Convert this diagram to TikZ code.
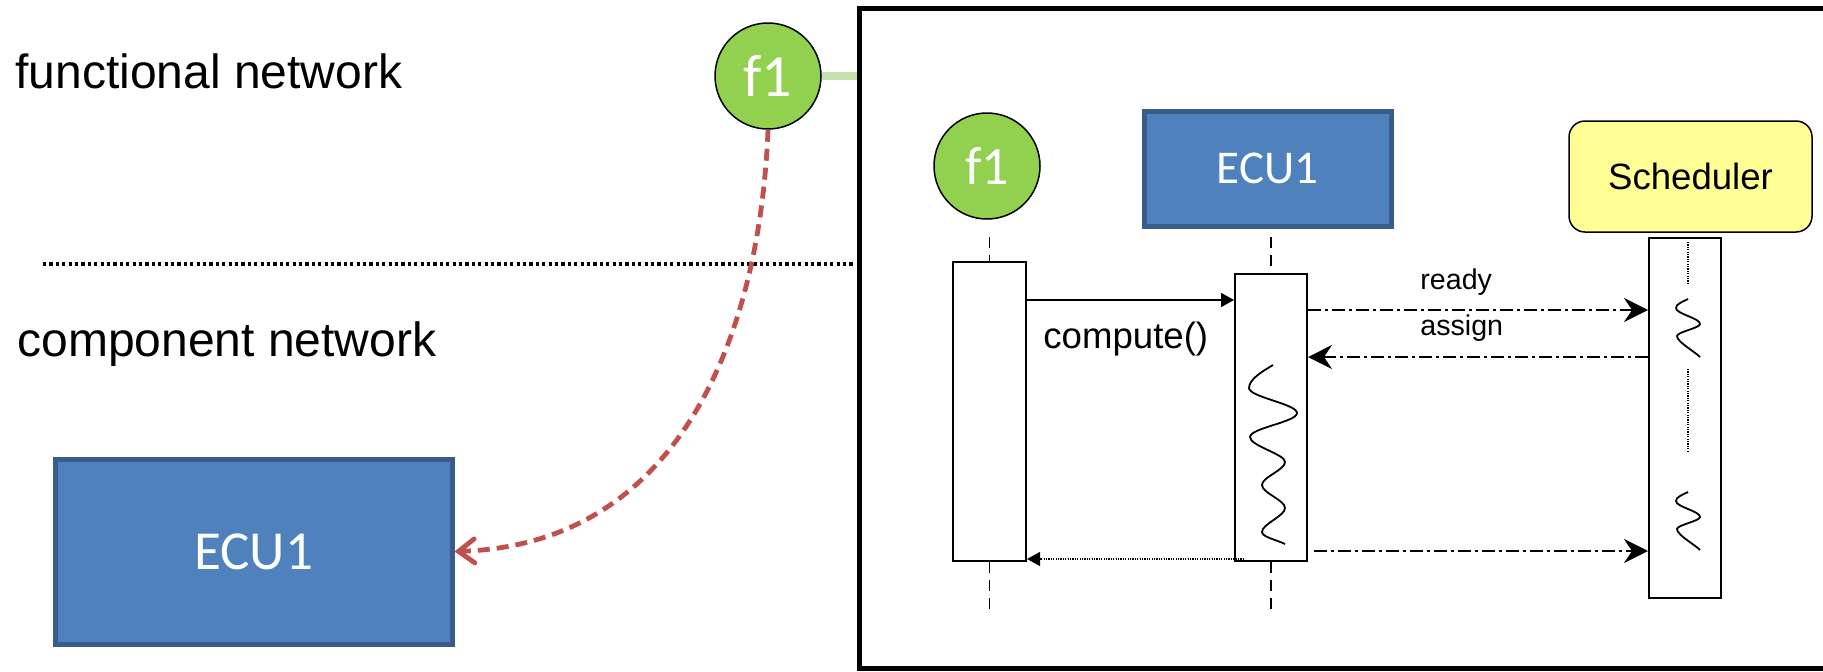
\documentclass[tikz,border=0pt]{standalone}
\usepackage{fontspec}
\setmainfont{Liberation Sans}
\newfontfamily\calibrifont{Carlito}
\usetikzlibrary{arrows.meta}

\definecolor{fgreen}{HTML}{92D050}
\definecolor{linkgreen}{RGB}{198,226,172}
\definecolor{ecublue}{HTML}{4F81BD}
\definecolor{ecuborder}{HTML}{385D8A}
\definecolor{mapred}{HTML}{C0504D}
\definecolor{schedyellow}{RGB}{255,255,150}

\begin{document}
\begin{tikzpicture}[x=0.5pt,y=-0.5pt,
  funcnode/.style={circle, draw=black, line width=0.75pt, fill=fgreen,
    minimum size=53pt, inner sep=0pt, text=white,
    font=\calibrifont\fontsize{27}{30}\selectfont},
  ecubox/.style={rectangle, draw=ecuborder, line width=2.5pt, fill=ecublue,
    inner sep=0pt, text=white, font=\calibrifont\fontsize{23.5}{26}\selectfont},
  schedbox/.style={rectangle, rounded corners=8pt, draw=black, line width=0.75pt,
    fill=schedyellow, inner sep=0pt, minimum width=121.5pt, minimum height=55.5pt,
    font=\fontsize{18.3}{21}\selectfont},
  actbox/.style={rectangle, draw=black, line width=1pt, fill=white, inner sep=0pt},
  layerlabel/.style={anchor=base west, inner sep=0pt, font=\fontsize{24}{28}\selectfont},
  msglabel/.style={anchor=base west, inner sep=0pt, font=\fontsize{18.3}{21}\selectfont},
  smalllabel/.style={anchor=base west, inner sep=0pt, font=\fontsize{14.3}{17}\selectfont},
  lifeline/.style={line width=0.75pt, dash pattern=on 5.5pt off 3.5pt},
  callmsg/.style={line width=0.75pt, -{Triangle[length=6.5pt,width=7pt]}},
  asyncmsg/.style={line width=1pt, dash pattern=on 6.5pt off 2pt on 1.5pt off 2pt,
    -{Stealth[length=12pt,width=12pt,inset=4pt]}},
  replymsg/.style={line width=0.6pt, dash pattern=on 0.6pt off 0.6pt,
    -{Triangle[length=6.5pt,width=7pt]}},
  mapping/.style={draw=mapred, line width=2.4pt, dash pattern=on 6pt off 3.5pt,
    -{Straight Barb[length=8pt,width=12pt,line cap=round]}},
  wave/.style={line width=0.9pt},
  guide/.style={line width=0.6pt, dash pattern=on 0.6pt off 0.6pt}
]
\useasboundingbox (0,0) rectangle (1823,671);
\clip (0,0) rectangle (1823,671);

% layer names and separator
\node[layerlabel] (lblFunc) at (15,88) {functional network};
\node[layerlabel] (lblComp) at (17,356) {component network};
\draw[line width=2pt, dash pattern=on 1.6pt off 1.6pt] (43,264) -- (855,264);

% frame of the sequence view
\draw[line width=2.5pt] (1840,8) -- (859,8) -- (859,668) -- (1840,668);
\coordinate (frameL) at (857,76);

% function and its mapping to the ECU
\node[funcnode, font=\calibrifont\fontsize{30}{33}\selectfont] (f1top) at (768,76) {f1};
\node[ecubox, minimum width=198.5pt, minimum height=92.5pt,
  font=\calibrifont\fontsize{27.5}{30}\selectfont] (ecuL) at (253.5,551.5) {ECU1};
\draw[linkgreen, line width=4pt] (f1top.east) -- (f1top.east -| frameL);
\draw[mapping] (f1top.south) .. controls +(-8,201) and +(228,-7) .. (ecuL.east);

% sequence participants
\node[funcnode] (f1in) at (987,166) {f1};
\node[ecubox, minimum width=123.5pt, minimum height=57.5pt] (ecuT) at (1267.5,168.5) {ECU1};
\node[schedbox] (sched) at (1690.5,176.5) {Scheduler};

% activation bars
\node[actbox, minimum width=36.5pt, minimum height=149.5pt] (f1act) at (989.5,411.5) {};
\node[actbox, minimum width=36pt, minimum height=143.5pt] (ecuact) at (1271,417.5) {};
\node[actbox, minimum width=36pt, minimum height=180pt] (schedact) at (1685,418) {};

% lifelines
\draw[lifeline] ([yshift=12pt]f1act.north) -- (f1act.north);
\draw[lifeline] (f1act.south) -- ++(0,49);
\draw[lifeline] ([yshift=18pt]ecuact.north) -- (ecuact.north);
\draw[lifeline] (ecuact.south) -- ++(0,49);

% message rows
\coordinate (rowCompute) at (0,300);
\coordinate (rowReady) at (0,310);
\coordinate (rowAssign) at (0,357);
\coordinate (rowDone) at (0,551);
\coordinate (rowReturn) at (0,559);

\draw[callmsg] (f1act.east |- rowCompute) -- (ecuact.west |- rowCompute);
\node[msglabel] (lblCompute) at (1043,348) {compute()};

\draw[asyncmsg] (ecuact.east |- rowReady) -- (schedact.west |- rowReady);
\node[smalllabel] (lblReady) at (1420,289) {ready};

\draw[asyncmsg] (schedact.west |- rowAssign) -- (ecuact.east |- rowAssign);
\node[smalllabel] (lblAssign) at (1420,335) {assign};

\draw[asyncmsg] ([xshift=3pt]ecuact.east |- rowDone) -- (schedact.west |- rowDone);
\draw[replymsg] ([xshift=5pt]ecuact.west |- rowReturn) -- (f1act.east |- rowReturn);

% execution inside the ECU
\draw[wave] (1273,365) .. controls +(-10,6) and +(0,-9) .. (1249,388)
  .. controls +(0,9) and +(0,-9) .. (1297,413)
  .. controls +(0,9) and +(0,-9) .. (1250,437)
  .. controls +(0,9) and +(0,-8) .. (1285,462)
  .. controls +(0,8) and +(0,-8) .. (1262,485)
  .. controls +(0,8) and +(0,-8) .. (1285,508)
  .. controls +(0,8) and +(0,-8) .. (1262,532)
  .. controls +(0,5) and +(-8,-4) .. (1285,544);

% scheduler activity
\draw[guide] (1688,242) -- (1688,283);
\draw[guide] (1688,369) -- (1688,451);
\foreach \dy in {0,193}{
  \draw[wave] (1688,{299+\dy}) .. controls +(-6,3) and +(0,-4) .. (1676,{308+\dy})
    .. controls +(0,6) and +(0,-6) .. (1700,{324+\dy})
    .. controls +(0,4) and +(0,-4) .. (1677,{336+\dy})
    .. controls +(0,6) and +(-6,-6) .. (1700,{357+\dy});
}
\end{tikzpicture}
\end{document}
